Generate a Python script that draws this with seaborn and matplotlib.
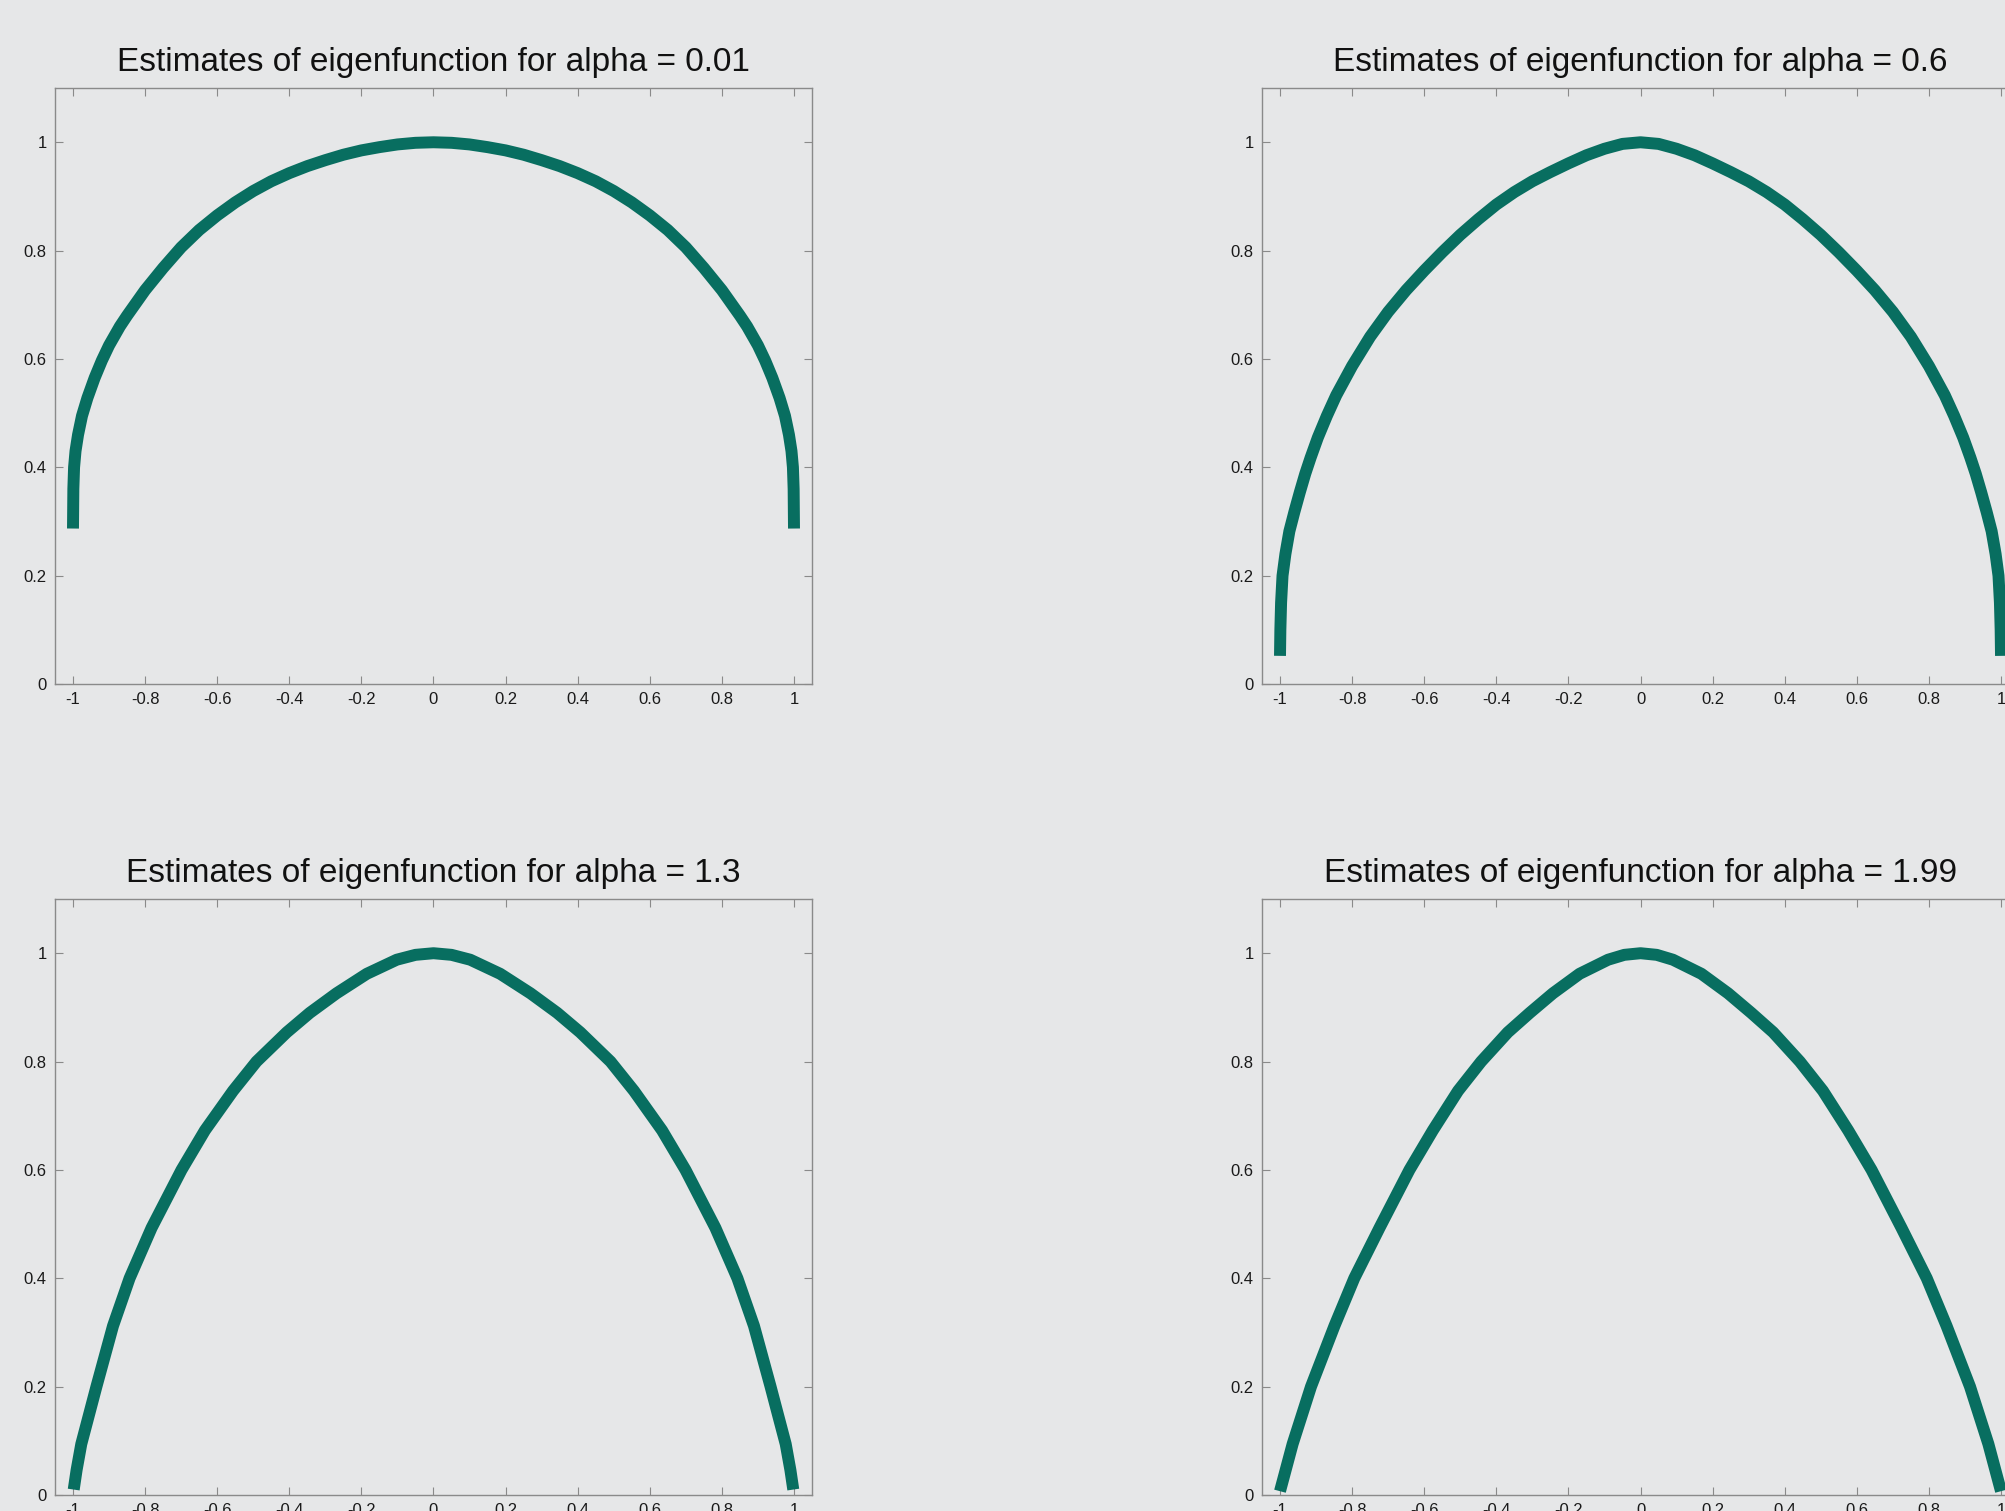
import matplotlib
matplotlib.use('Agg')
import matplotlib.pyplot as plt
import seaborn as sns

# values (x, eigenfunction estimate)
alphas = ['0.01', '0.6', '1.3', '1.99']

x_a001 = [-1.0, -0.999, -0.997, -0.993, -0.986, -0.975, -0.96, -0.94, -0.92, -0.9,
          -0.87, -0.85, -0.8, -0.75, -0.7, -0.65, -0.6, -0.55, -0.5, -0.45,
          -0.4, -0.35, -0.3, -0.25, -0.2, -0.15, -0.1, -0.05, 0.0,
          0.05, 0.1, 0.15, 0.2, 0.25, 0.3, 0.35, 0.4, 0.45, 0.5,
          0.55, 0.6, 0.65, 0.7, 0.75, 0.8, 0.85, 0.87, 0.9, 0.92,
          0.94, 0.96, 0.975, 0.986, 0.993, 0.997, 0.999, 1.0]
y_a001 = [0.287, 0.36, 0.40, 0.43, 0.46, 0.495, 0.528, 0.565, 0.597, 0.625,
          0.66, 0.68, 0.727, 0.768, 0.806, 0.838, 0.865, 0.889, 0.91, 0.928,
          0.943, 0.956, 0.967, 0.977, 0.985, 0.991, 0.996, 0.999, 1.0,
          0.999, 0.996, 0.991, 0.985, 0.977, 0.967, 0.956, 0.943, 0.928, 0.91,
          0.889, 0.865, 0.838, 0.806, 0.768, 0.727, 0.68, 0.66, 0.625, 0.597,
          0.565, 0.528, 0.495, 0.46, 0.43, 0.40, 0.36, 0.287]

x_a06 = [-1.0, -0.999, -0.997, -0.993, -0.985, -0.974, -0.96, -0.945, -0.93, -0.915,
         -0.895, -0.87, -0.844, -0.8, -0.75, -0.7, -0.65, -0.6, -0.55, -0.5,
         -0.45, -0.4, -0.35, -0.3, -0.25, -0.2, -0.15, -0.1, -0.05, 0.0,
         0.05, 0.1, 0.15, 0.2, 0.25, 0.3, 0.35, 0.4, 0.45, 0.5,
         0.55, 0.6, 0.65, 0.7, 0.75, 0.8, 0.844, 0.87, 0.895, 0.915,
         0.93, 0.945, 0.96, 0.974, 0.985, 0.993, 0.997, 0.999, 1.0]
y_a06 = [0.052, 0.10, 0.15, 0.20, 0.24, 0.282, 0.318, 0.354, 0.388, 0.418,
         0.455, 0.495, 0.533, 0.587, 0.641, 0.687, 0.727, 0.763, 0.797, 0.829,
         0.858, 0.885, 0.908, 0.928, 0.945, 0.961, 0.976, 0.988, 0.997, 1.0,
         0.997, 0.988, 0.976, 0.961, 0.945, 0.928, 0.908, 0.885, 0.858, 0.829,
         0.797, 0.763, 0.727, 0.687, 0.641, 0.587, 0.533, 0.495, 0.455, 0.418,
         0.388, 0.354, 0.318, 0.282, 0.24, 0.20, 0.15, 0.10, 0.052]

x_a13 = [-0.998, -0.99, -0.977, -0.935, -0.889, -0.843, -0.782, -0.699, -0.634, -0.556,
         -0.491, -0.407, -0.343, -0.269, -0.185, -0.102, -0.05, 0.0,
         0.05, 0.102, 0.185, 0.269, 0.343, 0.407, 0.491, 0.556, 0.634,
         0.699, 0.782, 0.843, 0.889, 0.935, 0.977, 0.99, 0.998]
y_a13 = [0.01, 0.046, 0.094, 0.20, 0.312, 0.40, 0.493, 0.60, 0.673, 0.746,
         0.80, 0.854, 0.89, 0.926, 0.962, 0.988, 0.997, 1.0,
         0.997, 0.988, 0.962, 0.926, 0.89, 0.854, 0.80, 0.746, 0.673,
         0.60, 0.493, 0.40, 0.312, 0.20, 0.094, 0.046, 0.01]

x_a199 = [-1.0, -0.965, -0.914, -0.849, -0.794, -0.724, -0.641, -0.576, -0.506, -0.442,
          -0.368, -0.307, -0.243, -0.169, -0.09, -0.045, 0.0,
          0.045, 0.09, 0.169, 0.243, 0.307, 0.368, 0.442, 0.506, 0.576,
          0.641, 0.724, 0.794, 0.849, 0.914, 0.965, 1.0]
y_a199 = [0.007, 0.094, 0.20, 0.312, 0.40, 0.493, 0.60, 0.673, 0.746, 0.80,
          0.854, 0.89, 0.926, 0.962, 0.988, 0.997, 1.0,
          0.997, 0.988, 0.962, 0.926, 0.89, 0.854, 0.80, 0.746, 0.673,
          0.60, 0.493, 0.40, 0.312, 0.20, 0.094, 0.007]

xs = [x_a001, x_a06, x_a13, x_a199]
ys = [y_a001, y_a06, y_a13, y_a199]

x_ticks = [-1, -0.8, -0.6, -0.4, -0.2, 0, 0.2, 0.4, 0.6, 0.8, 1]
x_ticklabels = ['-1', '-0.8', '-0.6', '-0.4', '-0.2', '0', '0.2', '0.4', '0.6', '0.8', '1']
y_ticks = [0, 0.2, 0.4, 0.6, 0.8, 1]
y_ticklabels = ['0', '0.2', '0.4', '0.6', '0.8', '1']

bg = '#e6e7e8'
line_color = '#086e60'
edge = '#8a8a8a'

sns.set_theme(style='ticks')
plt.rcParams['font.family'] = ['Liberation Sans', 'DejaVu Sans']
plt.rcParams['axes.unicode_minus'] = False

fig = plt.figure(figsize=(20.06, 15.11), dpi=100, facecolor=bg)

# axes boxes in figure fractions (right column runs off the edge like the reference)
positions = [
    [0.0274, 0.5473, 0.3774, 0.3944],
    [0.6291, 0.5473, 0.3774, 0.3944],
    [0.0274, 0.0106, 0.3774, 0.3944],
    [0.6291, 0.0106, 0.3774, 0.3944],
]

for pos, a, x, y in zip(positions, alphas, xs, ys):
    ax = fig.add_axes(pos)
    ax.set_facecolor(bg)
    sns.lineplot(x=x, y=y, ax=ax, color=line_color, linewidth=8.6,
                 estimator=None, sort=False, solid_capstyle='butt',
                 solid_joinstyle='round')
    ax.set_xlim(-1.05, 1.05)
    ax.set_ylim(0, 1.1)
    ax.set_xticks(x_ticks)
    ax.set_xticklabels(x_ticklabels)
    ax.set_yticks(y_ticks)
    ax.set_yticklabels(y_ticklabels)
    ax.tick_params(direction='in', length=5.5, width=0.8, color=edge,
                   labelsize=12, labelcolor='#1a1a1a', top=True, right=True, pad=6)
    for sp in ax.spines.values():
        sp.set_visible(True)
        sp.set_color(edge)
        sp.set_linewidth(1.0)
    ax.set_xlabel('')
    ax.set_ylabel('')
    ax.set_title('Estimates of eigenfunction for alpha = ' + a, fontsize=24,
                 color='#111111', pad=12)

fig.savefig('out.png', dpi=100, facecolor=bg)
